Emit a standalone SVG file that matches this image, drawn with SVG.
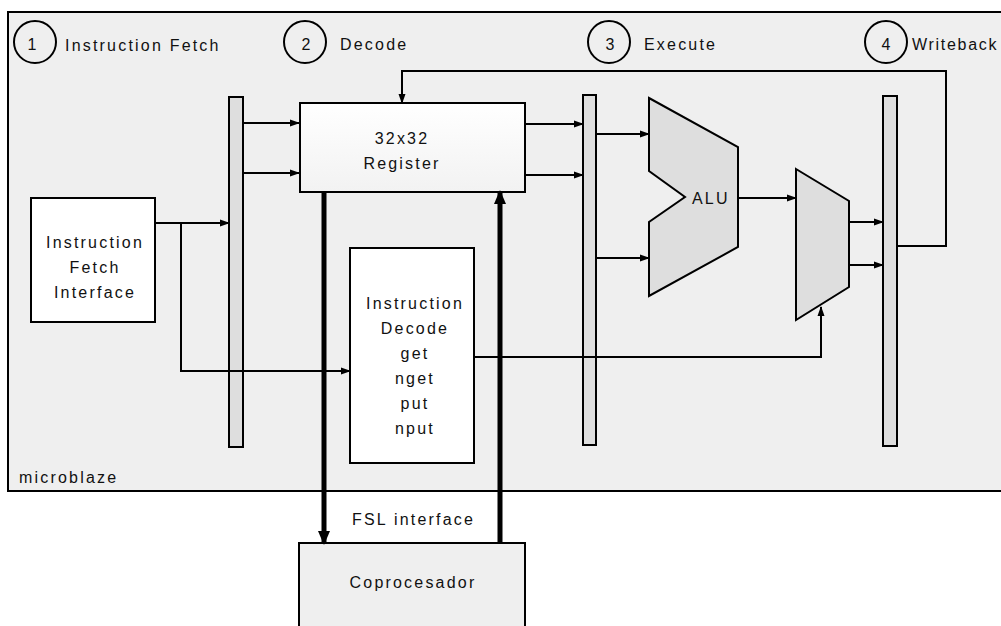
<svg xmlns="http://www.w3.org/2000/svg" width="1001" height="626" viewBox="0 0 1001 626">
<style>
text{font-family:"Liberation Sans",Arial,sans-serif;font-size:16px;fill:#111;letter-spacing:2.2px}
.c{text-anchor:middle}
.n{letter-spacing:0}
.ln{fill:none;stroke:#000;stroke-width:2}
.thick{fill:none;stroke:#000;stroke-width:5}
.bar{fill:#dedede;stroke:#000;stroke-width:2}
.box{fill:#fff;stroke:#000;stroke-width:2}
.circ{fill:none;stroke:#000;stroke-width:2}
</style>
<defs>
<marker id="ah" markerWidth="10" markerHeight="8" refX="9" refY="4" orient="auto" markerUnits="userSpaceOnUse"><path d="M0,0.5 L10,4 L0,7.5 Z" fill="#000"/></marker>
<marker id="ahb" markerWidth="14" markerHeight="12" refX="12" refY="6" orient="auto" markerUnits="userSpaceOnUse"><path d="M0,0 L14,6 L0,12 Z" fill="#000"/></marker>
<linearGradient id="rg" x1="0" y1="0" x2="0" y2="1"><stop offset="0" stop-color="#fff"/><stop offset="1" stop-color="#f2f2f2"/></linearGradient>
</defs>
<rect width="1001" height="626" fill="#fff"/>
<g id="microblaze">
<rect x="8" y="12" width="1010" height="479" fill="#efefef" stroke="#000" stroke-width="2"/>
<text x="19" y="483">microblaze</text>
</g>
<g id="stage1"><circle class="circ" cx="35" cy="42" r="21"/><text x="32" y="50" class="c n">1</text><text x="65" y="51">Instruction Fetch</text></g>
<g id="stage2"><circle class="circ" cx="305" cy="42" r="21"/><text x="306" y="50" class="c n">2</text><text x="340" y="50">Decode</text></g>
<g id="stage3"><circle class="circ" cx="609" cy="42" r="21"/><text x="610" y="50" class="c n">3</text><text x="644" y="50">Execute</text></g>
<g id="stage4"><circle class="circ" cx="886" cy="42" r="21"/><text x="886" y="50" class="c n">4</text><text x="912" y="50" style="letter-spacing:1.7px">Writeback</text></g>
<g id="bar1"><rect class="bar" x="229" y="97" width="14" height="350"/></g>
<g id="bar2"><rect class="bar" x="583" y="95" width="13" height="350"/></g>
<g id="bar4"><rect class="bar" x="883" y="96" width="14" height="350"/></g>
<g id="register"><rect x="300" y="103" width="225" height="89" fill="url(#rg)" stroke="#000" stroke-width="2"/><text x="402" y="144" class="c">32x32</text><text x="402" y="169" class="c">Register</text></g>
<g id="fetch"><rect class="box" x="31" y="198" width="124" height="124"/><text x="95" y="248" class="c">Instruction</text><text x="95" y="273" class="c">Fetch</text><text x="95" y="298" class="c">Interface</text></g>
<g id="decode"><rect class="box" x="350" y="248" width="124" height="215"/><text x="415" y="309" class="c">Instruction</text><text x="415" y="334" class="c">Decode</text><text x="415" y="359" class="c">get</text><text x="415" y="384" class="c">nget</text><text x="415" y="409" class="c">put</text><text x="415" y="434" class="c">nput</text></g>
<g id="alu"><polygon points="649,98 738,147 738,247 649,296 649,222 685,197 649,171" fill="#dedede" stroke="#000" stroke-width="2"/><text x="692" y="204">ALU</text></g>
<g id="mux"><polygon points="796,169 849,201 849,287 796,320" fill="#dedede" stroke="#000" stroke-width="2"/></g>
<g id="coproc"><rect x="299" y="543" width="226" height="100" fill="#efefef" stroke="#000" stroke-width="2"/><text x="413" y="588" class="c">Coprocesador</text></g>
<text x="352" y="525">FSL interface</text>
<g id="connectors">
<path class="ln" d="M243,123 H299" marker-end="url(#ah)"/>
<path class="ln" d="M243,173 H299" marker-end="url(#ah)"/>
<path class="ln" d="M155,223 H229" marker-end="url(#ah)"/>
<path class="ln" d="M181,223 V371 H350" marker-end="url(#ah)"/>
<path class="ln" d="M525,124 H583" marker-end="url(#ah)"/>
<path class="ln" d="M525,175 H583" marker-end="url(#ah)"/>
<path class="ln" d="M596,134 H649" marker-end="url(#ah)"/>
<path class="ln" d="M596,258 H649" marker-end="url(#ah)"/>
<path class="ln" d="M738,198 H796" marker-end="url(#ah)"/>
<path class="ln" d="M849,222 H883" marker-end="url(#ah)"/>
<path class="ln" d="M849,265 H883" marker-end="url(#ah)"/>
<path class="ln" d="M474,357 H821 V307" marker-end="url(#ah)"/>
<path class="ln" d="M897,246 H946 V71 H402 V103" marker-end="url(#ah)"/>
<path class="thick" d="M324,192 V543" marker-end="url(#ahb)"/>
<path class="thick" d="M500,543 V192" marker-end="url(#ahb)"/>
</g>
</svg>
